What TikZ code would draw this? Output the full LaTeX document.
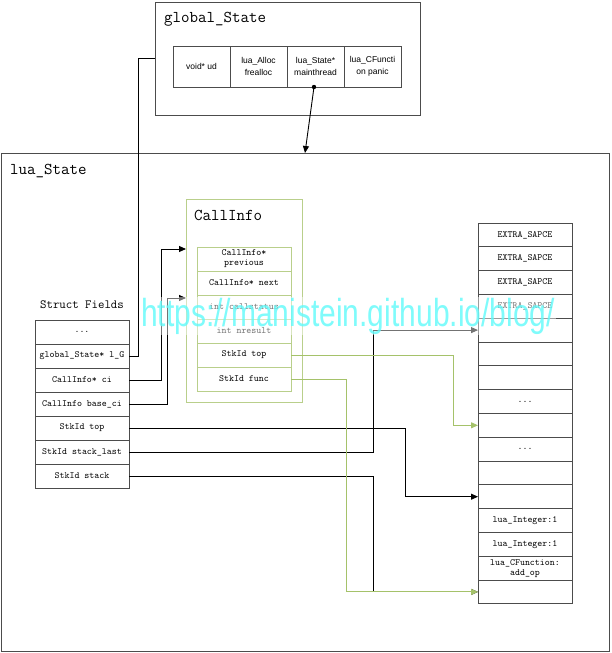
\documentclass[tikz,border=0pt]{standalone}
\usepackage{fontspec}
\setsansfont{Liberation Sans}
\usetikzlibrary{arrows.meta, calc, positioning}
\colorlet{linecolor}{black}
\colorlet{boxstroke}{black!70}
\definecolor{cigreen}{RGB}{155,187,89}
\colorlet{cistroke}{cigreen!70}
\colorlet{ciwire}{cigreen!90}
\definecolor{markcolor}{RGB}{95,250,250}
\tikzset{
  panel/.style={
    draw=boxstroke,
    line width=0.9pt,
    inner sep=0pt,
    outer sep=0pt
  },
  title/.style={font=\ttfamily\fontsize{16.5}{18}\selectfont, inner sep=0pt, anchor=base west},
  cell/.style={
    draw=boxstroke,
    line width=0.9pt,
    minimum width=94pt,
    minimum height=24pt,
    inner sep=0pt,
    outer sep=0pt,
    align=center,
    font=\ttfamily\fontsize{9.5}{10}\selectfont
  },
  slot/.style={cell, minimum height=23.8pt},
  gcell/.style={cell, minimum width=57pt, minimum height=41pt, font=\sffamily\fontsize{8.5}{12}\selectfont},
  cicell/.style={cell, draw=cistroke},
  arr/.style={-{Triangle[length=7pt,width=6pt]}, line width=0.9pt, draw=linecolor},
  garr/.style={arr, draw=ciwire},
  wire/.style={line width=0.9pt, draw=linecolor},
  watermark/.style={text=markcolor, fill=white, fill opacity=0.45, text opacity=0.8, inner sep=1pt,
    font=\sffamily\fontsize{30}{30}\selectfont}
}

\begin{document}
\begin{tikzpicture}[x=1pt, y=-1pt]
\useasboundingbox (0,0) rectangle (611,653);

% global_State
\node[panel, minimum width=265pt, minimum height=113pt] (global) at (287.5,58.5) {};
\node[title] (globaltitle) at (164,23) {global\_State};
\node[gcell] (ud) at (201.5,66.5) {void* ud};
\node[gcell, right=0pt of ud] (frealloc) {lua\_Alloc\\frealloc};
\node[gcell, right=0pt of frealloc] (mainthread) {lua\_State*\\mainthread};
\node[gcell, right=0pt of mainthread] (panic) {lua\_CFuncti\\on panic};

% lua_State
\node[panel, minimum width=608pt, minimum height=498pt] (luastate) at (305,402) {};
\node[title] (luatitle) at (10,174) {lua\_State};

% CallInfo
\node[panel, draw=cistroke, minimum width=116pt, minimum height=203pt] (callinfo) at (244,300.5) {};
\node[title] (cititle) at (194,220) {CallInfo};
\node[cicell] (previous) at (244,259) {CallInfo*\\previous};
\node[cicell, below=0pt of previous] (next) {CallInfo* next};
\node[cicell, below=0pt of next] (callstatus) {int callstatus};
\node[cicell, below=0pt of callstatus] (nresult) {int nresult};
\node[cicell, below=0pt of nresult] (citop) {StkId top};
\node[cicell, below=0pt of citop] (cifunc) {StkId func};

% struct fields
\node[font=\ttfamily\fontsize{12.5}{14}\selectfont] (fieldstitle) at (82,305) {Struct Fields};
\node[cell] (dots) at (82,332) {...};
\node[cell, below=0pt of dots] (lg) {global\_State* l\_G};
\node[cell, below=0pt of lg] (ci) {CallInfo* ci};
\node[cell, below=0pt of ci] (baseci) {CallInfo base\_ci};
\node[cell, below=0pt of baseci] (top) {StkId top};
\node[cell, below=0pt of top] (stacklast) {StkId stack\_last};
\node[cell, below=0pt of stacklast] (stack) {StkId stack};

% stack slots
\node[slot] (s1) at (525,234.9) {EXTRA\_SAPCE};
\node[slot, below=0pt of s1] (s2) {EXTRA\_SAPCE};
\node[slot, below=0pt of s2] (s3) {EXTRA\_SAPCE};
\node[slot, below=0pt of s3] (s4) {EXTRA\_SAPCE};
\node[slot, below=0pt of s4] (s5) {};
\node[slot, below=0pt of s5] (s6) {};
\node[slot, below=0pt of s6] (s7) {};
\node[slot, below=0pt of s7] (s8) {...};
\node[slot, below=0pt of s8] (s9) {};
\node[slot, below=0pt of s9] (s10) {...};
\node[slot, below=0pt of s10] (s11) {};
\node[slot, below=0pt of s11] (s12) {};
\node[slot, below=0pt of s12] (s13) {lua\_Integer:1};
\node[slot, below=0pt of s13] (s14) {lua\_Integer:1};
\node[slot, below=0pt of s14] (s15) {lua\_CFunction:\\add\_op};
\node[slot, below=0pt of s15] (s16) {};

% pointers
\fill[linecolor] ($(mainthread.south)+(-1.5,0)$) circle (2.2pt);
\draw[arr] ($(mainthread.south)+(-1.5,0)$) -- (luastate.north);
\draw[wire] (lg.east) -| ($(global.west)+(-17,0)$) -- (global.west);
\draw[arr] (ci.east) -- ++(32,0) |- ($(callinfo.north west)+(0,50)$);
\draw[arr] (baseci.east) -- ++(38,0) |- ($(callinfo.north west)+(0,99)$);
\draw[arr] (top.east) -- ++(276,0) |- (s12.west);
\draw[arr] (stacklast.east) -- ++(244,0) |- (s5.west);
\draw[arr] (stack.east) -- ++(244,0) |- (s16.west);
\draw[garr] (citop.east) -- ++(162,0) |- (s9.west);
\draw[garr] (cifunc.east) -- ++(55,0) |- (s16.west);

\node[watermark] (blogmark) at (348,316) {\scalebox{1}[1.3]{https://manistein.github.io/blog/}};

\end{tikzpicture}
\end{document}
